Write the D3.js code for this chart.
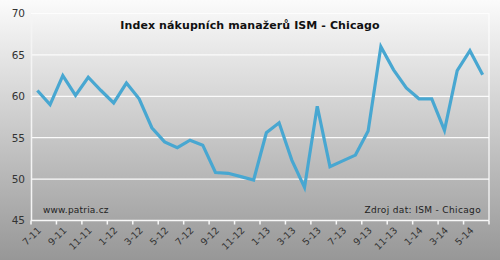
<!DOCTYPE html>
<html>
<head>
<meta charset="utf-8">
<script src="https://cdn.jsdelivr.net/npm/d3@7"></script>
<style>
  body { margin: 0; }
  text { font-family: "DejaVu Sans", Verdana, sans-serif; }
</style>
</head>
<body>
<div id="chart"></div>
<script>
// months 7-11 .. 6-14
var months = ["7-11","8-11","9-11","10-11","11-11","12-11",
              "1-12","2-12","3-12","4-12","5-12","6-12","7-12","8-12","9-12","10-12","11-12","12-12",
              "1-13","2-13","3-13","4-13","5-13","6-13","7-13","8-13","9-13","10-13","11-13","12-13",
              "1-14","2-14","3-14","4-14","5-14","6-14"];
var values = [60.7, 59.0, 62.5, 60.1, 62.3, 60.7,
              59.2, 61.6, 59.7, 56.2, 54.5, 53.8, 54.7, 54.1, 50.8, 50.7, 50.3, 49.9,
              55.6, 56.8, 52.3, 49.0, 58.8, 51.5, 52.2, 52.9, 55.8, 66.0, 63.2, 61.0,
              59.7, 59.7, 55.9, 63.1, 65.5, 62.6];
var yTicks = [45, 50, 55, 60, 65, 70];

var W = 500, H = 260;
var margin = {top: 13.5, right: 11, bottom: 39.5, left: 31};
var width = W - margin.left - margin.right,
    height = H - margin.top - margin.bottom;

var svg = d3.select("#chart").append("svg")
    .attr("width", W)
    .attr("height", H);

var defs = svg.append("defs");
var grad = defs.append("linearGradient")
    .attr("id", "bg").attr("x1", 0).attr("y1", 0).attr("x2", 0).attr("y2", 1);
grad.append("stop").attr("offset", "0%").attr("stop-color", "#fbfbfb");
grad.append("stop").attr("offset", "100%").attr("stop-color", "#979797");

svg.append("rect")
    .attr("width", W).attr("height", H)
    .style("fill", "url(#bg)");

var g = svg.append("g")
    .attr("transform", "translate(" + margin.left + "," + margin.top + ")");

var x = d3.scaleBand()
    .domain(months)
    .range([0, width]);

var y = d3.scaleLinear()
    .domain([45, 70])
    .range([height, 0]);

// gridlines
g.selectAll(".grid")
    .data(yTicks.slice(1, -1))
    .enter().append("line")
    .attr("x1", 0).attr("x2", width)
    .attr("y1", function (d) { return y(d); })
    .attr("y2", function (d) { return y(d); })
    .style("stroke", "#fbfbfb")
    .style("stroke-width", 1.2);

// plot border (top, right)
g.append("path")
    .attr("d", "M0," + y(70) + "H" + width + "V" + height)
    .style("fill", "none")
    .style("stroke", "#fdfdfd")
    .style("stroke-width", 1.2);

// y axis
var yAxis = d3.axisLeft(y).tickValues(yTicks).tickSize(0).tickPadding(6);
var gy = g.append("g").call(yAxis);
gy.select(".domain").style("stroke", "#f4f4f4").style("stroke-width", 1.5);
gy.selectAll("text")
    .style("font-size", "10.5px")
    .style("fill", "#333");

// x axis: ticks every 2 months between categories, labels at centres
var tickPos = d3.range(0, months.length + 1, 2);
var gx = g.append("g").attr("transform", "translate(0," + height + ")");
gx.append("line")
    .attr("x1", 0).attr("x2", width)
    .style("stroke", "#f8f8f8").style("stroke-width", 1.5);
gx.selectAll(".tk")
    .data(tickPos)
    .enter().append("line")
    .attr("x1", function (i) { return i * x.step(); })
    .attr("x2", function (i) { return i * x.step(); })
    .attr("y1", 0).attr("y2", 4)
    .style("stroke", "#f8f8f8").style("stroke-width", 1.5);

gx.selectAll(".lbl")
    .data(months.filter(function (d, i) { return i % 2 === 0; }))
    .enter().append("text")
    .attr("transform", function (d) {
        return "translate(" + (x(d) + x.bandwidth() / 2 + 2) + ",8) rotate(-45)";
    })
    .attr("text-anchor", "end")
    .attr("dy", "0.35em")
    .style("font-size", "9.5px")
    .style("fill", "#333")
    .text(function (d) { return d; });

// the line
var line = d3.line()
    .x(function (d, i) { return x(months[i]) + x.bandwidth() / 2; })
    .y(function (d) { return y(d); });

g.append("path")
    .datum(values)
    .attr("d", line)
    .style("fill", "none")
    .style("stroke", "#48a7d1")
    .style("stroke-width", 3.2)
    .style("stroke-linejoin", "miter");

// texts
svg.append("text")
    .attr("x", 250).attr("y", 28.5)
    .attr("text-anchor", "middle")
    .style("font-size", "11px")
    .style("font-weight", "bold")
    .style("letter-spacing", "0.1px")
    .style("fill", "#111")
    .text("Index nákupních manažerů ISM - Chicago");

svg.append("text")
    .attr("x", 43).attr("y", 213)
    .style("font-size", "9px")
    .style("letter-spacing", "0.2px")
    .style("fill", "#222")
    .text("www.patria.cz");

svg.append("text")
    .attr("x", 481).attr("y", 213)
    .attr("text-anchor", "end")
    .style("font-size", "9px")
    .style("letter-spacing", "0.35px")
    .style("fill", "#222")
    .text("Zdroj dat: ISM - Chicago");
</script>
</body>
</html>
